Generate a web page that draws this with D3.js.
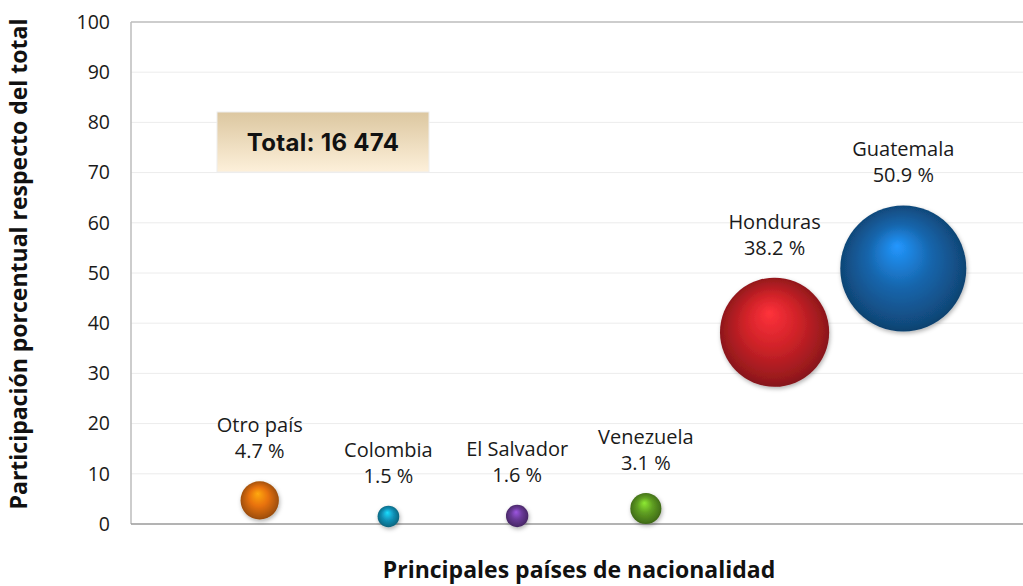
<!DOCTYPE html>
<html>
<head>
<meta charset="utf-8">
<script src="https://cdn.jsdelivr.net/npm/d3@7"></script>
<style>
  body { margin: 0; background: #fff; }
  svg { display: block; font-family: "Open Sans", "Noto Sans", sans-serif; }
  .tick text { font-family: "Open Sans", "Noto Sans", sans-serif; font-size: 19.5px; fill: #1a1a1a; }
  .lbl { font-size: 20px; fill: #1a1a1a; }
  .ttl { font-size: 23px; font-weight: bold; fill: #111; }
</style>
</head>
<body>
<svg id="chart" width="1023" height="586"></svg>
<script>
  // data
  const countries = ["Otro país", "Colombia", "El Salvador", "Venezuela", "Honduras", "Guatemala"];
  const shares = [4.7, 1.5, 1.6, 3.1, 38.2, 50.9];
  const colors = ["#e8720c", "#1296bd", "#6a3a98", "#5f9e22", "#cf2228", "#1766ad"];
  const yTicks = [0, 10, 20, 30, 40, 50, 60, 70, 80, 90, 100];
  const totalText = "Total: 16 474";

  const svg = d3.select("#chart");
  const m = { left: 131, top: 22, bottom: 524, right: 1032 };

  const x = d3.scaleLinear().domain([0, 7]).range([m.left, m.right]);
  const y = d3.scaleLinear().domain([0, 100]).range([m.bottom, m.top]);
  const r = d3.scaleSqrt().domain([0, 50.9]).range([0, 63]);

  const defs = svg.append("defs");
  colors.forEach((c, i) => {
    const g = defs.append("radialGradient").attr("id", "ball" + i)
      .attr("cx", "50%").attr("cy", "50%").attr("r", "55%")
      .attr("fx", "45%").attr("fy", "32%");
    const base = d3.color(c);
    g.append("stop").attr("offset", "0%").attr("stop-color", base.brighter(1.1));
    g.append("stop").attr("offset", "45%").attr("stop-color", base);
    g.append("stop").attr("offset", "85%").attr("stop-color", base.darker(0.9));
    g.append("stop").attr("offset", "100%").attr("stop-color", base.darker(1.6));
  });
  const box = defs.append("linearGradient").attr("id", "boxg")
    .attr("x1", 0).attr("y1", 0).attr("x2", 0).attr("y2", 1);
  box.append("stop").attr("offset", "0%").attr("stop-color", "#dcc7a0");
  box.append("stop").attr("offset", "100%").attr("stop-color", "#fdf0da");
  const sh = defs.append("filter").attr("id", "shadow").attr("x", "-30%").attr("y", "-30%")
    .attr("width", "160%").attr("height", "160%");
  sh.append("feDropShadow").attr("dx", 1).attr("dy", 2).attr("stdDeviation", 2)
    .attr("flood-color", "#000").attr("flood-opacity", 0.3);

  // gridlines
  svg.append("g")
    .selectAll("line").data(yTicks.slice(1, -1)).join("line")
    .attr("x1", m.left).attr("x2", 1023)
    .attr("y1", d => y(d)).attr("y2", d => y(d))
    .attr("stroke", "#ececec").attr("stroke-width", 1);

  // plot frame: top, left, bottom
  const frame = svg.append("g").attr("stroke", "#bdbdbd").attr("stroke-width", 1.5);
  frame.append("line").attr("x1", m.left).attr("x2", 1023).attr("y1", y(100)).attr("y2", y(100));
  frame.append("line").attr("x1", m.left).attr("x2", m.left).attr("y1", y(100)).attr("y2", y(0));
  frame.append("line").attr("x1", m.left).attr("x2", 1023).attr("y1", y(0)).attr("y2", y(0))
    .attr("stroke", "#9a9a9a");

  // y axis
  const ya = svg.append("g").attr("transform", `translate(${m.left - 21},0)`)
    .call(d3.axisLeft(y).tickValues(yTicks).tickSize(0).tickPadding(0));
  ya.select(".domain").remove();

  // total box
  const bx = svg.append("g");
  bx.append("rect").attr("x", 217).attr("y", 112).attr("width", 212).attr("height", 60)
    .attr("fill", "url(#boxg)").attr("stroke", "#eeeeee");
  bx.append("text").attr("x", 323).attr("y", 151).attr("text-anchor", "middle")
    .attr("font-family", "Inter, Lato, sans-serif").attr("font-weight", "bold")
    .attr("font-size", 24).attr("letter-spacing", 0.3).attr("fill", "#111").text(totalText);

  const rows = countries.map((c, i) => ({ name: c, v: shares[i], i }));

  // bubbles
  svg.append("g").selectAll("circle").data(rows).join("circle")
    .attr("cx", d => x(d.i + 1)).attr("cy", d => y(d.v)).attr("r", d => r(d.v))
    .attr("fill", d => `url(#ball${d.i})`).attr("filter", "url(#shadow)");

  // labels
  const lab = svg.append("g").selectAll("text").data(rows).join("text")
    .attr("class", "lbl").attr("text-anchor", "middle")
    .attr("x", d => x(d.i + 1))
    .attr("y", d => y(d.v) - r(d.v) - 49);
  lab.append("tspan").text(d => d.name);
  lab.append("tspan").attr("x", d => x(d.i + 1)).attr("dy", 26)
    .text(d => d3.format(".1f")(d.v) + " %");

  // axis titles
  svg.append("text").attr("class", "ttl").attr("text-anchor", "middle")
    .attr("transform", "translate(27,264) rotate(-90)")
    .text("Participación porcentual respecto del total");
  svg.append("text").attr("class", "ttl").attr("text-anchor", "middle")
    .attr("x", 579).attr("y", 578)
    .text("Principales países de nacionalidad");
</script>
</body>
</html>
